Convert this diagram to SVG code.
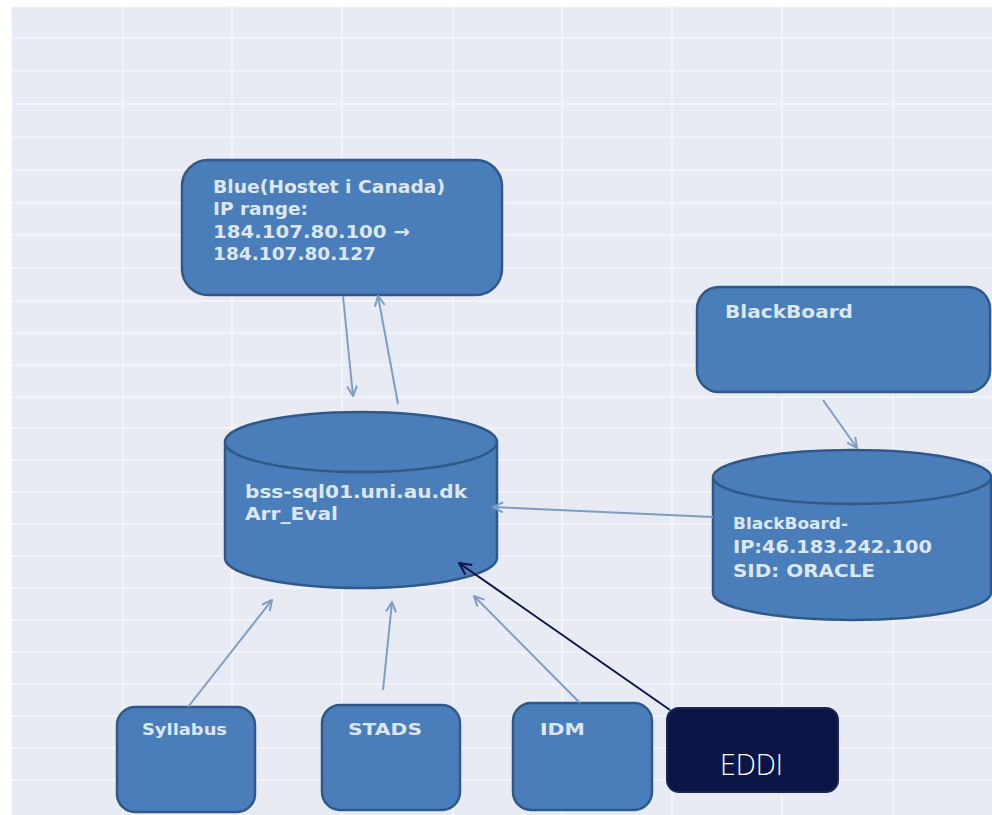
<svg xmlns="http://www.w3.org/2000/svg" width="992" height="815" viewBox="0 0 992 815">
<defs>
<style>
.bg{fill:#e8ebf3}
.gl{stroke:#f2f4f9;stroke-width:2}
.shape{fill:#4a7ebb;stroke:#30598a;stroke-width:2.5}
.lbl{fill:#dde7f3;font-family:"DejaVu Sans","Liberation Sans",sans-serif;font-weight:bold;font-size:18.5px}
.sm{font-size:15.5px}
.conn{stroke:#7f9dc4;stroke-width:2;fill:none}
.dark{stroke:#0c1646;stroke-width:2;fill:none}
</style>
<marker id="ah" viewBox="0 0 12 12" refX="11" refY="6" markerWidth="12" markerHeight="12" markerUnits="userSpaceOnUse" orient="auto">
<path d="M1,1 L11,6 L1,11" fill="none" stroke="#7f9dc4" stroke-width="2"/>
</marker>
<marker id="ahd" viewBox="0 0 14 14" refX="13" refY="7" markerWidth="14" markerHeight="14" markerUnits="userSpaceOnUse" orient="auto">
<path d="M1,1 L13,7 L1,13" fill="none" stroke="#0c1646" stroke-width="2"/>
</marker>
</defs>
<rect x="0" y="0" width="992" height="815" fill="#ffffff"/>
<rect class="bg" x="12" y="7" width="980" height="808"/>
<g id="grid">
<path class="gl" d="M123,7V815M232,7V815M342,7V815M453,7V815M562,7V815M672,7V815M782,7V815M893,7V815"/>
<path class="gl" d="M12,38H992M12,71H992M12,104H992M12,137H992M12,170H992M12,203H992M12,235H992M12,268H992M12,301H992M12,333H992M12,365H992M12,397H992M12,428H992M12,460H992M12,492H992M12,524H992M12,556H992M12,588H992M12,620H992M12,652H992M12,684H992M12,716H992M12,748H992M12,780H992"/>
</g>
<g id="blue">
<rect class="shape" x="182" y="160" width="320" height="135" rx="26"/>
<text class="lbl" x="213" y="193" textLength="232" lengthAdjust="spacingAndGlyphs">Blue(Hostet i Canada)</text>
<text class="lbl" x="213" y="215" textLength="95" lengthAdjust="spacingAndGlyphs">IP range:</text>
<text class="lbl" x="213" y="238" textLength="197" lengthAdjust="spacingAndGlyphs">184.107.80.100 →</text>
<text class="lbl" x="213" y="260" textLength="163" lengthAdjust="spacingAndGlyphs">184.107.80.127</text>
</g>
<g id="db-main">
<path class="shape" d="M225,442 V558 A136,30 0 0 0 497,558 V442 A136,30 0 0 0 225,442 Z"/>
<path class="shape" d="M225,442 A136,30 0 0 0 497,442" fill="none"/>
<text class="lbl" x="245" y="498" textLength="222" lengthAdjust="spacingAndGlyphs">bss-sql01.uni.au.dk</text>
<text class="lbl" x="245" y="520" textLength="93" lengthAdjust="spacingAndGlyphs">Arr_Eval</text>
</g>
<g id="blackboard">
<rect class="shape" x="697" y="287" width="293" height="105" rx="22"/>
<text class="lbl" x="725" y="318" textLength="128" lengthAdjust="spacingAndGlyphs">BlackBoard</text>
</g>
<g id="db-blackboard">
<path class="shape" d="M713,477 V593 A139,27 0 0 0 991,593 V477 A139,27 0 0 0 713,477 Z"/>
<path class="shape" d="M713,477 A139,27 0 0 0 991,477" fill="none"/>
<text class="lbl sm" x="733" y="529" textLength="115" lengthAdjust="spacingAndGlyphs">BlackBoard-</text>
<text class="lbl" x="733" y="553" textLength="199" lengthAdjust="spacingAndGlyphs">IP:46.183.242.100</text>
<text class="lbl" x="733" y="577" textLength="142" lengthAdjust="spacingAndGlyphs">SID: ORACLE</text>
</g>
<g id="syllabus">
<rect class="shape" x="117" y="707" width="138" height="105" rx="18"/>
<text class="lbl sm" x="142" y="735" textLength="85" lengthAdjust="spacingAndGlyphs">Syllabus</text>
</g>
<g id="stads">
<rect class="shape" x="322" y="705" width="138" height="105" rx="18"/>
<text class="lbl sm" x="348" y="735" textLength="74" lengthAdjust="spacingAndGlyphs">STADS</text>
</g>
<g id="idm">
<rect class="shape" x="513" y="703" width="139" height="107" rx="18"/>
<text class="lbl sm" x="540" y="735" textLength="45" lengthAdjust="spacingAndGlyphs">IDM</text>
</g>
<g id="eddi">
<rect x="667" y="708" width="171" height="84" rx="12" fill="#0c1646" stroke="#1a2556" stroke-width="2"/>
<text x="720" y="775" fill="#ffffff" font-family="'Open Sans','Noto Sans',sans-serif" font-weight="300" font-size="29" textLength="63" lengthAdjust="spacingAndGlyphs">EDDI</text>
</g>
<g id="connectors">
<line class="conn" x1="343" y1="296" x2="353" y2="396" marker-end="url(#ah)"/>
<line class="conn" x1="398" y1="404" x2="378" y2="296" marker-end="url(#ah)"/>
<line class="conn" x1="823" y1="400" x2="857" y2="448" marker-end="url(#ah)"/>
<line class="conn" x1="713" y1="517" x2="493" y2="507" marker-end="url(#ah)"/>
<line class="conn" x1="188" y1="707" x2="272" y2="600" marker-end="url(#ah)"/>
<line class="conn" x1="383" y1="690" x2="392" y2="602" marker-end="url(#ah)"/>
<line class="conn" x1="580" y1="703" x2="474" y2="596" marker-end="url(#ah)"/>
<line class="dark" x1="670" y1="710" x2="459" y2="563" marker-end="url(#ahd)"/>
</g>
</svg>
